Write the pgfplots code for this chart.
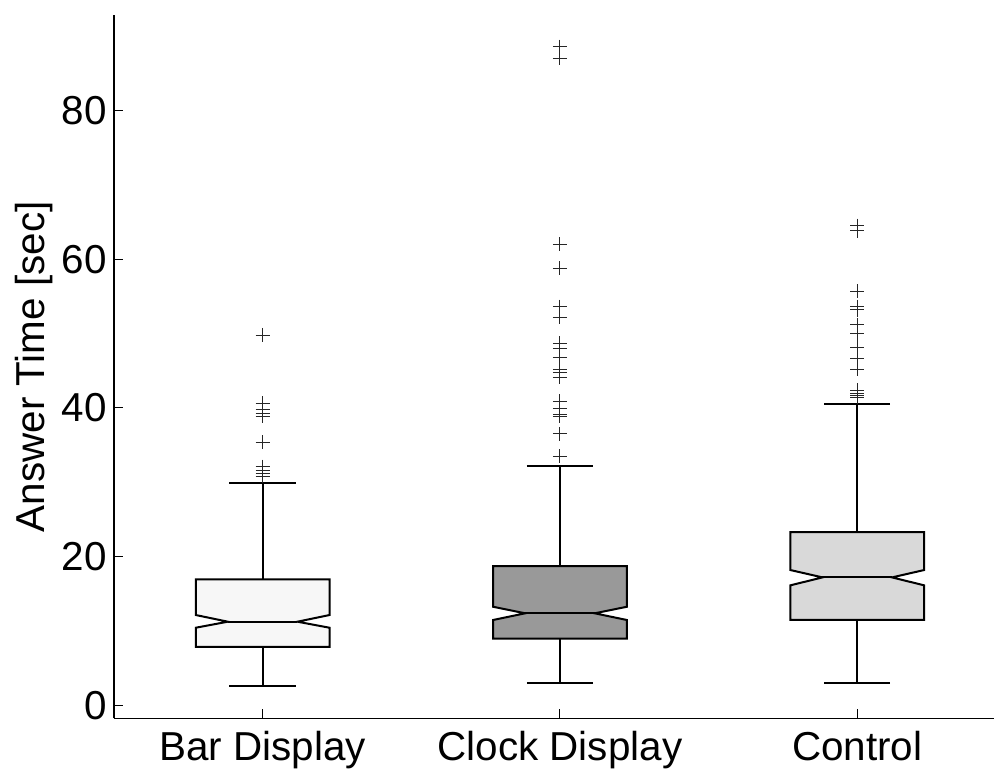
\documentclass[border=0pt]{standalone}
\usepackage{pgfplots}
\pgfplotsset{compat=1.18}
\usepgfplotslibrary{statistics}
\usepackage{fontspec}
\setmainfont{Liberation Sans}
\definecolor{barfill}{RGB}{247,247,247}
\definecolor{clockfill}{RGB}{153,153,153}
\definecolor{ctrlfill}{RGB}{217,217,217}
\pgfplotsset{
  /pgfplots/boxplot/notch low/.initial=0,
  /pgfplots/boxplot/notch high/.initial=0,
}
\begin{document}
\begin{tikzpicture}
\begin{axis}[
  width=440pt, height=351.5pt, scale only axis,
  xmin=0.5, xmax=3.46, ymin=-1.75, ymax=92.8,
  axis lines=left, axis line style={-, line width=0.7pt},
  xtick={1,2,3}, xticklabels={Bar Display, Clock Display, Control},
  ytick={0,20,40,60,80},
  tick align=inside, major tick length=4.5pt,
  tick style={black, line width=0.5pt},
  ylabel={Answer Time [sec]},
  ylabel shift=-2.5pt,
  label style={font=\fontsize{20.2}{23}\selectfont},
  tick label style={font=\fontsize{20.2}{23}\selectfont},
  xticklabel style={yshift=-3pt},
  /pgf/number format/assume math mode=true,
  boxplot/draw direction=y,
  boxplot/box extend=0.45,
  boxplot/whisker extend=0.223,
  boxplot/draw/box/.code={%
    \draw[/pgfplots/boxplot/every box/.try]
      (boxplot box cs:\pgfplotsboxplotvalue{lower quartile},0)
      -- (boxplot box cs:\pgfplotsboxplotvalue{notch low},0)
      -- (boxplot box cs:\pgfplotsboxplotvalue{median},0.24)
      -- (boxplot box cs:\pgfplotsboxplotvalue{notch high},0)
      -- (boxplot box cs:\pgfplotsboxplotvalue{upper quartile},0)
      -- (boxplot box cs:\pgfplotsboxplotvalue{upper quartile},1)
      -- (boxplot box cs:\pgfplotsboxplotvalue{notch high},1)
      -- (boxplot box cs:\pgfplotsboxplotvalue{median},0.76)
      -- (boxplot box cs:\pgfplotsboxplotvalue{notch low},1)
      -- (boxplot box cs:\pgfplotsboxplotvalue{lower quartile},1)
      -- cycle;
  },
  boxplot/draw/median/.code={%
    \draw[/pgfplots/boxplot/every median/.try]
      (boxplot box cs:\pgfplotsboxplotvalue{median},0.24)
      -- (boxplot box cs:\pgfplotsboxplotvalue{median},0.76);
  },
  boxplot/every box/.style={draw=black, line width=1pt},
  boxplot/every median/.style={draw=black, line width=1pt},
  boxplot/every whisker/.style={draw=black, line width=1pt},
  mark=+,
  mark size=3.5pt,
  mark options={draw=black!85, line width=0.45pt, solid},
]
\addplot[boxplot prepared={draw position=1,
    lower whisker=2.6, lower quartile=7.85, notch low=10.43, median=11.24,
    notch high=12.14, upper quartile=16.94, upper whisker=29.9},
  fill=barfill, draw=black, mark=+]
  table[row sep=\\, y index=0] {49.8\\ 40.6\\ 39.8\\ 39.3\\ 38.9\\ 35.4\\ 32.1\\ 31.6\\ 31.2\\ 30.8\\};
\addplot[boxplot prepared={draw position=2,
    lower whisker=2.96, lower quartile=8.95, notch low=11.47, median=12.37,
    notch high=13.25, upper quartile=18.72, upper whisker=32.2},
  fill=clockfill, draw=black, mark=+]
  table[row sep=\\, y index=0] {88.6\\ 87.0\\ 62.0\\ 58.8\\ 53.6\\ 52.2\\ 48.7\\ 48.0\\ 46.8\\ 45.1\\ 44.7\\ 44.1\\ 40.9\\ 39.9\\ 39.1\\ 38.9\\ 36.5\\ 33.5\\};
\addplot[boxplot prepared={draw position=3,
    lower whisker=2.96, lower quartile=11.47, notch low=16.13, median=17.2,
    notch high=18.19, upper quartile=23.3, upper whisker=40.46},
  fill=ctrlfill, draw=black, mark=+]
  table[row sep=\\, y index=0] {64.5\\ 63.8\\ 55.7\\ 53.6\\ 53.2\\ 51.2\\ 50.0\\ 48.1\\ 46.7\\ 45.2\\ 42.4\\ 42.0\\ 41.7\\ 41.4\\};
\end{axis}
\pgfresetboundingbox
\path (current axis.south west) ++(-57pt,-25.35pt) rectangle ++(497.5pt,384.5pt);
\end{tikzpicture}
\end{document}
